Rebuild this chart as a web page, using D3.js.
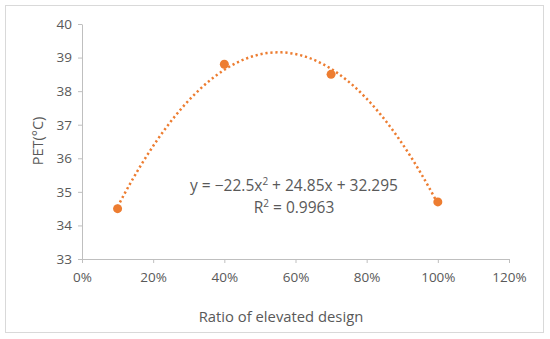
<!DOCTYPE html>
<html>
<head>
<meta charset="utf-8">
<script src="https://cdn.jsdelivr.net/npm/d3@7.9.0/dist/d3.min.js"></script>
<style>
  body { margin: 0; background: #fff; }
  svg text { font-family: "Open Sans", sans-serif; fill: #595959; }
</style>
</head>
<body>
<svg id="chart" width="550" height="339"></svg>
<script>
// measured points
const ratios = [0.1, 0.4, 0.7, 1.0];
const pet = [34.5, 38.8, 38.5, 34.7];
// trendline coefficients shown on the chart: y = a x^2 + b x + c
const trend = { a: -22.5, b: 24.85, c: 32.295 };
const xTicks = [0, 0.2, 0.4, 0.6, 0.8, 1.0, 1.2];
const yTicks = [33, 34, 35, 36, 37, 38, 39, 40];

const svg = d3.select('#chart');
const orange = '#ED7D31';
const axisColor = '#bfbfbf';

svg.append('rect')
    .attr('x', 5.5).attr('y', 5.5)
    .attr('width', 538).attr('height', 327)
    .attr('fill', '#fff')
    .attr('stroke', '#d9d9d9');

const x = d3.scaleLinear().domain([0, 1.2]).range([82, 509]);
const y = d3.scaleLinear().domain([33, 40]).range([259, 24]);

// y axis
const yAxis = svg.append('g')
    .attr('transform', `translate(${x(0)},0)`)
    .call(d3.axisLeft(y).tickValues(yTicks).tickFormat(d3.format('d')).tickSize(4).tickPadding(6).tickSizeOuter(0));
yAxis.select('.domain').attr('stroke', axisColor);
yAxis.selectAll('.tick line').attr('stroke', axisColor);
yAxis.selectAll('.tick text')
    .style('font-size', '13.5px')
    .attr('fill', '#595959')
    .style('font-family', '"Open Sans", sans-serif');

// x axis
const xAxis = svg.append('g')
    .attr('transform', `translate(0,${y(33)})`)
    .call(d3.axisBottom(x).tickValues(xTicks).tickFormat(d3.format('.0%')).tickSize(4).tickPadding(9).tickSizeOuter(0));
xAxis.select('.domain').attr('stroke', axisColor);
xAxis.selectAll('.tick line').attr('stroke', axisColor);
xAxis.selectAll('.tick text')
    .style('font-size', '13.5px')
    .attr('fill', '#595959')
    .style('font-family', '"Open Sans", sans-serif');

// trendline (polynomial from the printed equation)
const trendXs = d3.range(0.1, 1.0001, 0.01);
const line = d3.line()
    .x(d => x(d))
    .y(d => y(trend.a * d * d + trend.b * d + trend.c))
    .curve(d3.curveMonotoneX);
svg.append('path')
    .datum(trendXs)
    .attr('d', line)
    .attr('fill', 'none')
    .attr('stroke', orange)
    .attr('stroke-width', 2.5)
    .attr('stroke-dasharray', '2.2,2.8');

// points
svg.selectAll('circle.pt')
    .data(ratios)
    .join('circle')
    .attr('class', 'pt')
    .attr('cx', d => x(d))
    .attr('cy', (d, i) => y(pet[i]))
    .attr('r', 4.5)
    .attr('fill', orange);

// equation labels
const eq = svg.append('text')
    .attr('x', 294).attr('y', 191)
    .attr('text-anchor', 'middle')
    .style('font-size', '15.5px');
eq.append('tspan').text('y = −22.5x');
eq.append('tspan').attr('dy', -6).style('font-size', '10px').text('2');
eq.append('tspan').attr('dy', 6).text(' + 24.85x + 32.295');

const r2 = svg.append('text')
    .attr('x', 294).attr('y', 213)
    .attr('text-anchor', 'middle')
    .style('font-size', '15.5px');
r2.append('tspan').text('R');
r2.append('tspan').attr('dy', -6).style('font-size', '10px').text('2');
r2.append('tspan').attr('dy', 6).text(' = 0.9963');

// axis titles
svg.append('text')
    .attr('x', 281).attr('y', 322)
    .attr('text-anchor', 'middle')
    .style('font-size', '14.8px')
    .text('Ratio of elevated design');

svg.append('text')
    .attr('transform', 'translate(43,141) rotate(-90)')
    .attr('text-anchor', 'middle')
    .style('font-size', '14.5px')
    .text('PET(°C)');
</script>
</body>
</html>
